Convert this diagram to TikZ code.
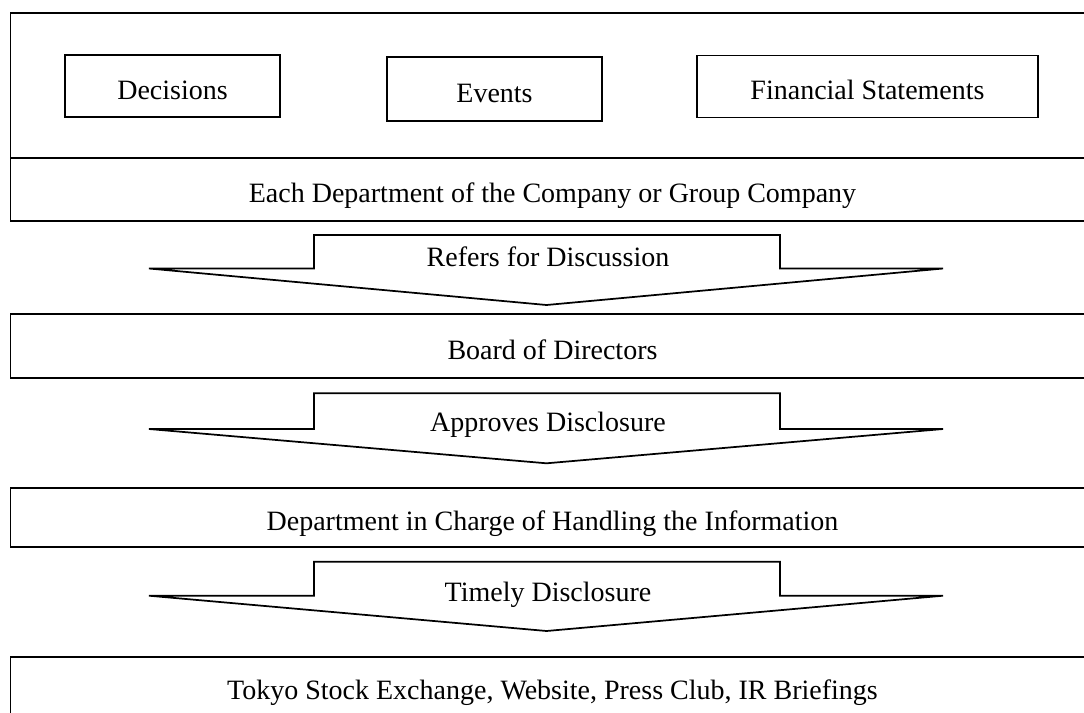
\documentclass[tikz,border=0pt]{standalone}
\usepackage{fontspec}
\setmainfont{Liberation Serif}
\usetikzlibrary{positioning}

\begin{document}
\begin{tikzpicture}[
    x=0.75pt, y=-0.75pt,
    font=\fontsize{21}{25}\selectfont,
    panel/.style={draw, line width=0.8pt, inner sep=0pt, text height=20pt, text depth=0pt},
    item/.style={panel, minimum width=161.25pt, minimum height=46.5pt},
    band/.style={panel, minimum width=813pt, minimum height=#1},
    flow/.style={draw, line width=1.3pt, line join=miter},
    flowlabel/.style={anchor=base}
]

\useasboundingbox (0,0) rectangle (1084,713);
\clip (0,0) rectangle (1084,713);

% Sources of information
\node[band=108.75pt] (sources) at (552.5,85.5) {};
\node[item] (decisions) at (172.5,86) {Decisions};
\node[item, minimum height=48pt] (events) at (494.5,89) {Events};
\node[item, minimum width=255.75pt] (statements) at (867.5,86.25) {Financial Statements};

% Bands
\node[band=47.25pt] (dept) at (552.5,189.5) {Each Department of the Company or Group Company};
\node[band=48pt] (board) at (552.5,346) {Board of Directors};
\node[band=44.25pt] (handling) at (552.5,517.5) {Department in Charge of Handling the Information};
\node[band=43.5pt] (outlets) at (552.5,686) {Tokyo Stock Exchange, Website, Press Club, IR Briefings};

% Block arrows between the bands
\draw[flow] (149,268.5) -- (314,268.5) -- (314,235) -- (780,235) -- (780,268.5) -- (943,268.5) -- (546.5,305) -- cycle;
\node[flowlabel] (refers) at (548,266) {Refers for Discussion};

\draw[flow] (149,429) -- (314,429) -- (314,393.3) -- (780,393.3) -- (780,429) -- (943,429) -- (546.5,463.3) -- cycle;
\node[flowlabel] (approves) at (548,431.7) {Approves Disclosure};

\draw[flow] (149,595.7) -- (314,595.7) -- (314,561.7) -- (780,561.7) -- (780,595.7) -- (943,595.7) -- (546.5,631) -- cycle;
\node[flowlabel] (timely) at (548,601.7) {Timely Disclosure};

\end{tikzpicture}
\end{document}
